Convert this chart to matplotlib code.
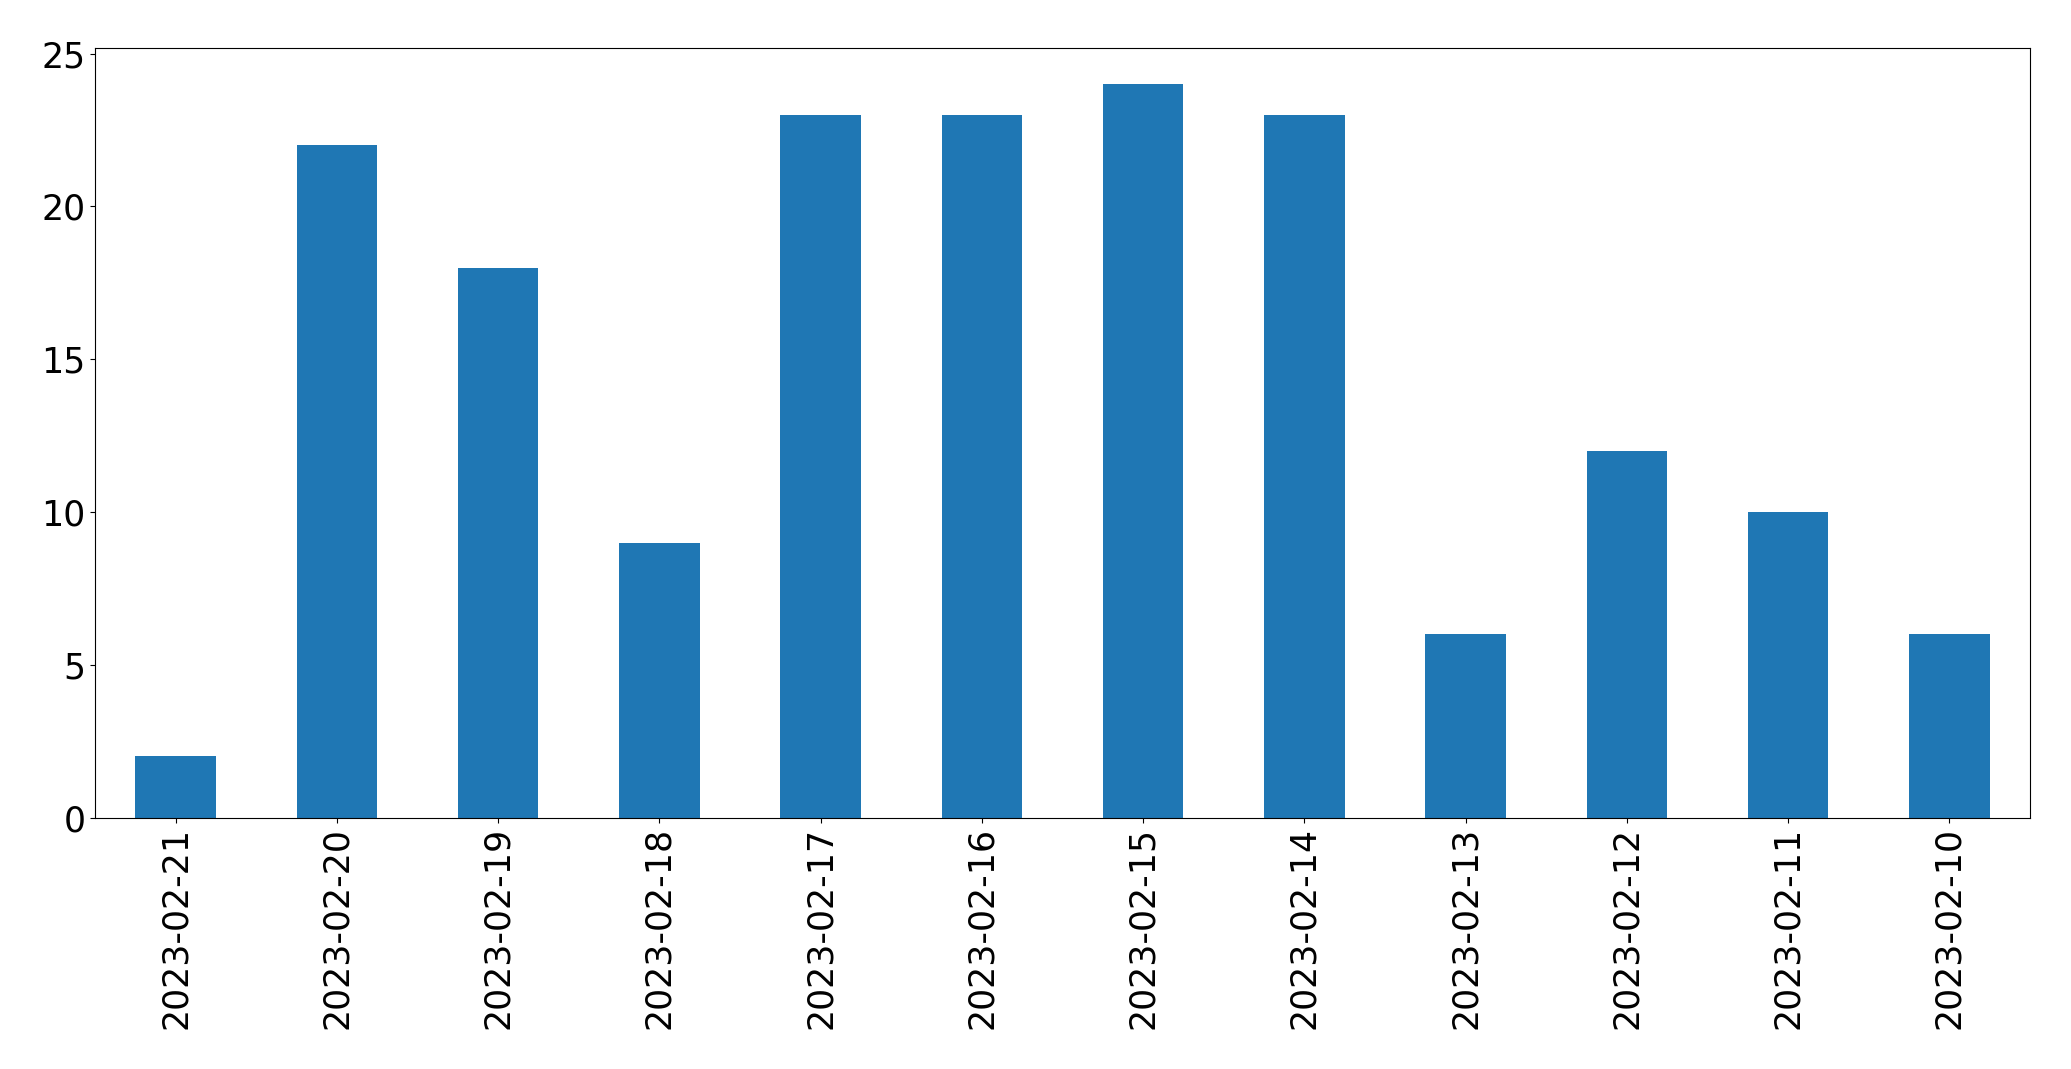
import matplotlib
matplotlib.use("Agg")
import matplotlib.pyplot as plt

dates = ["2023-02-21", "2023-02-20", "2023-02-19", "2023-02-18", "2023-02-17", "2023-02-16",
         "2023-02-15", "2023-02-14", "2023-02-13", "2023-02-12", "2023-02-11", "2023-02-10"]
counts = [2, 22, 18, 9, 23, 23, 24, 23, 6, 12, 10, 6]

fig = plt.figure(figsize=(20.71, 10.69), dpi=100)
ax = fig.add_axes([95 / 2071, 1 - 817.5 / 1069, (2030 - 95) / 2071, (817.5 - 47.5) / 1069])
x = range(len(dates))
ax.bar(x, counts, width=0.5, color="#1f77b4", linewidth=0)
ax.set_xlim(-0.5, len(dates) - 0.5)
ax.set_xticks(list(x))
ax.set_xticklabels(dates, rotation=90)
ax.tick_params(axis="both", labelsize=25)
fig.savefig("out.png", dpi=100)
